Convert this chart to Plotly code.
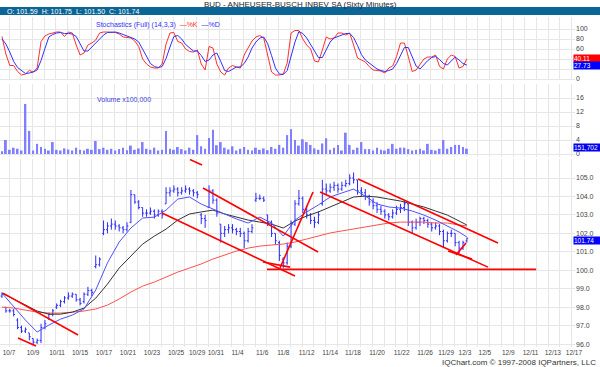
import plotly.graph_objects as go

# ---------------- data ----------------
TITLE = "BUD - ANHEUSER-BUSCH INBEV SA (Sixty Minutes)"
HEADER = "O: 101.59  H: 101.75  L: 101.50  C: 101.74"

tick_labels = ["10/7", "10/9", "10/11", "10/15", "10/17", "10/21", "10/23", "10/25", "10/29", "10/31",
               "11/4", "11/6", "11/8", "11/12", "11/14", "11/18", "11/20", "11/22", "11/26", "11/29",
               "12/3", "12/5", "12/9", "12/11", "12/13", "12/17"]
tick_pos = [0, 2.05, 4.1, 6.06, 8.1, 10.15, 12.2, 14.25, 16.05, 17.65,
            19.5, 21.6, 23.4, 25.4, 27.4, 29.35, 31.4, 33.5, 35.5, 37.3,
            38.9, 40.6, 42.6, 44.5, 46.4, 48.2]

open_ = [98.6, 98.0, 97.8, 97.8, 97.3, 96.9, 96.7, 96.6, 96.3, 96.1,
         96.2, 96.9, 97.4, 97.6, 98.0, 98.1, 98.3, 98.5, 98.6, 98.7,
         98.4, 98.3, 98.7, 98.9, 100.2, 100.3, 102.0, 102.2, 102.4, 102.5,
         102.4, 102.3, 102.2, 102.6, 104.1, 103.7, 103.4, 103.1, 103.1, 103.2,
         103.0, 103.2, 103.6, 104.2, 104.3, 104.4, 104.2, 104.3, 104.4, 104.3,
         104.2, 103.0, 102.8, 103.4, 104.3, 103.8, 102.5, 102.0, 102.2, 102.3,
         102.2, 102.1, 102.0, 101.6, 102.1, 103.8, 103.9, 103.9, 103.0, 102.6,
         102.0, 101.5, 100.6, 100.4, 101.3, 102.5, 103.6, 103.9, 103.3, 103.0,
         102.7, 102.6, 103.6, 104.4, 104.3, 104.5, 104.6, 104.4, 104.6, 104.7,
         105.0, 104.9, 104.3, 104.2, 104.0, 103.7, 103.5, 103.3, 103.2, 103.0,
         102.9, 103.1, 103.3, 103.4, 103.6, 102.6, 102.3, 102.6, 102.8, 102.7,
         102.5, 102.3, 102.4, 102.1, 101.6, 102.0, 102.0, 101.5, 101.2, 101.59]
high = [98.8, 98.0, 97.9, 97.9, 97.4, 97.0, 96.9, 96.6, 96.3, 96.3,
        97.1, 97.3, 97.7, 97.9, 98.2, 98.4, 98.6, 98.8, 98.8, 98.7,
        98.5, 98.8, 99.1, 99.0, 100.8, 100.7, 102.7, 102.6, 102.8, 102.7,
        102.5, 102.4, 102.6, 104.35, 104.1, 103.8, 103.4, 103.3, 103.4, 103.3,
        103.3, 103.3, 104.5, 104.5, 104.6, 104.5, 104.5, 104.6, 104.5, 104.4,
        104.3, 103.1, 103.0, 104.6, 104.4, 103.9, 102.5, 102.4, 102.5, 102.5,
        102.3, 102.3, 102.1, 102.3, 102.5, 104.2, 104.1, 104.0, 103.0, 102.7,
        102.0, 101.6, 100.7, 101.5, 102.7, 103.8, 104.35, 104.0, 103.5, 103.1,
        102.9, 103.2, 104.9, 104.7, 104.7, 104.8, 104.7, 104.8, 104.9, 105.2,
        105.3, 104.9, 104.5, 104.4, 104.1, 103.9, 103.7, 103.5, 103.3, 103.1,
        103.3, 103.5, 103.6, 103.8, 103.6, 102.7, 102.8, 102.9, 102.9, 102.8,
        102.6, 102.6, 102.5, 102.2, 102.1, 102.2, 102.0, 101.6, 101.6, 101.75]
low = [98.5, 97.7, 97.7, 97.5, 96.8, 96.6, 96.6, 96.2, 95.95, 96.0,
       96.05, 96.8, 97.3, 97.5, 97.9, 98.0, 98.2, 98.4, 98.5, 98.3,
       98.1, 98.2, 98.6, 98.6, 100.1, 100.2, 101.9, 102.0, 102.2, 102.2,
       102.1, 102.0, 102.1, 102.55, 103.6, 103.3, 102.9, 102.9, 103.0, 102.8,
       102.9, 102.8, 103.6, 104.0, 104.2, 104.0, 104.1, 104.2, 104.1, 104.0,
       103.9, 102.5, 102.3, 103.4, 103.6, 102.9, 101.5, 101.8, 102.0, 102.0,
       101.9, 101.8, 101.2, 101.5, 102.0, 103.7, 103.8, 103.7, 102.4, 101.8,
       101.4, 100.5, 100.1, 100.3, 101.2, 102.4, 103.5, 103.1, 102.8, 102.5,
       102.3, 102.5, 103.5, 104.1, 104.2, 104.3, 104.2, 104.3, 104.5, 104.6,
       104.7, 104.1, 104.0, 103.8, 103.5, 103.3, 103.1, 103.0, 102.8, 102.7,
       102.8, 103.0, 103.1, 103.2, 102.4, 102.0, 102.2, 102.4, 102.5, 102.3,
       102.1, 102.2, 101.9, 101.2, 101.5, 101.8, 101.3, 100.9, 101.1, 101.50]
close = [98.7, 97.8, 97.8, 97.6, 96.9, 96.7, 96.8, 96.4, 96.1, 96.2,
         96.9, 97.1, 97.6, 97.8, 98.1, 98.3, 98.5, 98.6, 98.7, 98.4,
         98.2, 98.7, 98.9, 98.8, 100.3, 100.6, 102.2, 102.4, 102.5, 102.4,
         102.3, 102.2, 102.4, 104.1, 103.7, 103.4, 103.1, 103.1, 103.2, 103.0,
         103.2, 103.0, 104.2, 104.3, 104.4, 104.2, 104.3, 104.4, 104.3, 104.2,
         104.1, 102.8, 102.7, 104.3, 103.8, 103.1, 102.0, 102.2, 102.3, 102.2,
         102.1, 102.0, 101.6, 102.1, 102.3, 103.9, 103.9, 103.8, 102.6, 102.0,
         101.6, 100.8, 100.4, 101.3, 102.5, 103.6, 103.9, 103.3, 103.0, 102.7,
         102.6, 103.0, 104.4, 104.3, 104.5, 104.6, 104.4, 104.6, 104.7, 105.0,
         104.9, 104.3, 104.2, 104.0, 103.7, 103.5, 103.3, 103.2, 103.0, 102.9,
         103.1, 103.3, 103.4, 103.6, 102.6, 102.3, 102.6, 102.8, 102.7, 102.5,
         102.3, 102.4, 102.1, 101.6, 102.0, 102.0, 101.5, 101.2, 101.5, 101.74]

# moving averages, sampled every third bar (plus the last bar)
ma_bars = list(range(0, 120, 3)) + [119]
ma_fast = [98.76, 98.0, 97.3, 96.65, 97.03, 97.35, 97.57, 97.9, 98.93, 100.4,
           101.53, 102.29, 102.83, 102.88, 103.26, 103.86, 103.97, 103.59, 103.32, 103.05,
           102.78, 102.56, 102.88, 102.56, 101.85, 102.72, 103.16, 103.54, 103.97, 104.19,
           104.40, 104.02, 103.59, 103.43, 103.37, 103.21, 102.99, 102.72, 102.40, 102.07, 101.80]
ma_mid = [98.76, 98.44, 98.11, 97.79, 97.62, 97.62, 97.73, 97.95, 98.49, 99.25,
          100.12, 100.77, 101.42, 101.85, 102.23, 102.72, 103.05, 103.16, 103.26, 103.05,
          102.88, 102.72, 102.61, 102.5, 102.29, 102.67, 102.94, 103.16, 103.43, 103.70,
          103.97, 104.02, 103.97, 103.86, 103.75, 103.59, 103.43, 103.21, 102.99, 102.67, 102.45]
ma_slow = [98.0, 97.95, 97.84, 97.73, 97.68, 97.68, 97.73, 97.79, 97.9, 98.11,
           98.44, 98.82, 99.14, 99.36, 99.63, 99.9, 100.12, 100.34, 100.61, 100.82,
           101.04, 101.2, 101.31, 101.37, 101.42, 101.53, 101.69, 101.85, 102.02, 102.13,
           102.23, 102.34, 102.45, 102.56, 102.61, 102.61, 102.61, 102.56, 102.56, 102.45, 102.40]

volume = [0.8, 4.0, 1.2, 1.8, 1.5, 1.0, 14.3, 6.6, 1.0, 2.9,
          2.0, 1.5, 1.0, 3.4, 1.2, 1.0, 1.6, 1.3, 1.0, 1.8,
          1.2, 1.0, 1.5, 1.2, 3.7, 1.4, 1.8, 1.2, 1.5, 1.0,
          1.4, 1.8, 1.1, 2.4, 1.2, 1.6, 3.4, 1.5, 1.2, 1.8,
          1.0, 1.2, 6.6, 1.5, 1.2, 2.0, 1.4, 1.0, 1.8, 1.2,
          5.4, 2.2, 1.5, 4.6, 6.9, 2.5, 3.4, 1.8, 1.3, 2.2,
          1.0, 1.5, 2.0, 1.2, 1.0, 1.8, 1.2, 1.6, 1.1, 2.0,
          1.5, 2.6, 1.8, 5.4, 7.1, 4.0, 2.4, 4.2, 3.4, 2.6,
          1.6, 1.2, 3.0, 4.5, 1.2, 1.8, 2.6, 1.0, 6.1, 2.6,
          1.2, 1.8, 3.4, 1.4, 1.4, 1.0, 1.8, 1.2, 1.0, 1.5,
          2.9, 1.5, 1.8, 1.8, 1.4, 1.0, 1.2, 1.5, 1.0, 2.9,
          1.2, 1.0, 1.5, 4.0, 1.5, 2.0, 2.6, 2.6, 2.0, 1.52]

stoch_k = [85, 50, 27, 27, 15, 8, 10, 17, 14, 22,
           75, 86, 90, 92, 94, 94, 85, 94, 92, 68,
           48, 52, 68, 72, 78, 92, 94, 94, 94, 93,
           90, 84, 83, 82, 76, 65, 40, 30, 24, 22,
           22, 30, 70, 92, 93, 75, 72, 60, 55, 54,
           58, 30, 18, 65, 62, 30, 14, 8, 22, 27,
           24, 22, 48, 62, 76, 84, 87, 82, 45, 14,
           8, 8, 10, 32, 92, 97, 97, 80, 68, 60,
           36, 34, 58, 84, 80, 82, 92, 92, 88, 92,
           68, 42, 38, 34, 25, 18, 17, 16, 12, 22,
           26, 45, 72, 72, 45, 15, 18, 28, 40, 44,
           44, 48, 25, 20, 40, 48, 45, 22, 25, 40.11]
stoch_d = [80, 70, 54, 35, 23, 17, 11, 12, 14, 18,
           37, 61, 84, 89, 92, 93, 91, 91, 90, 85,
           69, 56, 56, 64, 73, 81, 88, 93, 94, 94,
           92, 89, 86, 83, 80, 74, 60, 45, 31, 25,
           23, 25, 41, 64, 85, 87, 80, 69, 62, 56,
           56, 47, 35, 38, 48, 52, 35, 17, 15, 19,
           24, 24, 31, 44, 62, 74, 82, 84, 71, 47,
           22, 10, 9, 17, 45, 74, 95, 91, 82, 69,
           55, 43, 43, 59, 74, 82, 85, 89, 91, 91,
           83, 67, 49, 38, 32, 26, 20, 17, 15, 17,
           20, 31, 48, 63, 63, 44, 26, 20, 29, 37,
           43, 45, 39, 31, 28, 36, 44, 38, 31, 27.73]

# drawn trend lines (day units, price)
trendlines = [(-0.51, 98.76, 5.89, 96.49), (0.77, 96.33, 2.30, 95.89),
              (13.05, 103.10, 24.40, 99.69), (16.55, 104.46, 26.37, 100.99),
              (23.12, 100.12, 25.94, 104.24), (22.01, 100.05, 44.97, 100.05),
              (21.67, 100.45, 23.98, 100.17), (29.78, 104.95, 41.72, 101.48),
              (26.54, 104.24, 40.87, 100.17), (37.46, 101.04, 39.51, 100.61),
              (38.14, 100.83, 38.99, 101.48), (15.44, 106.0, 16.47, 105.70)]

# ---------------- layout helpers ----------------
W, H = 600, 367
ML, MR, MT, MB = 0, 25, 0, 20
PW, PH = W - ML - MR, H - MT - MB


def px_x(p):
    return (p - ML) / PW


def px_y(p):
    return (PH + MT - p) / PH


bar_x = [-0.6 + i / 3 for i in range(len(close))]
ma_x = [bar_x[k] for k in ma_bars]

GRID = "#e6e6e6"
BLUE = "#2b2bff"
FONT = "Arial"

fig = go.Figure()

fig.add_trace(go.Ohlc(x=bar_x, open=open_, high=high, low=low, close=close,
                      xaxis="x", yaxis="y", tickwidth=0.35,
                      increasing=dict(line=dict(color=BLUE, width=1)),
                      decreasing=dict(line=dict(color=BLUE, width=1)),
                      showlegend=False, hoverinfo="skip"))
fig.add_trace(go.Scatter(x=ma_x, y=ma_slow, mode="lines", line=dict(color="#ff5050", width=1),
                         xaxis="x", yaxis="y", showlegend=False, hoverinfo="skip"))
fig.add_trace(go.Scatter(x=ma_x, y=ma_mid, mode="lines", line=dict(color="#333333", width=1),
                         xaxis="x", yaxis="y", showlegend=False, hoverinfo="skip"))
fig.add_trace(go.Scatter(x=ma_x, y=ma_fast, mode="lines", line=dict(color="#5050ff", width=1),
                         xaxis="x", yaxis="y", showlegend=False, hoverinfo="skip"))

fig.add_trace(go.Bar(x=bar_x, y=volume, width=0.16, marker=dict(color="#7f7fff", line=dict(width=0)),
                     xaxis="x", yaxis="y2", showlegend=False, hoverinfo="skip"))

fig.add_trace(go.Scatter(x=bar_x, y=stoch_k, mode="lines", line=dict(color="#ff3030", width=1),
                         xaxis="x", yaxis="y3", showlegend=False, hoverinfo="skip"))
fig.add_trace(go.Scatter(x=bar_x, y=stoch_d, mode="lines", line=dict(color="#3030ff", width=1),
                         xaxis="x", yaxis="y3", showlegend=False, hoverinfo="skip"))

shapes = [dict(type="rect", xref="paper", yref="paper", x0=px_x(0), x1=px_x(600),
               y0=px_y(15), y1=px_y(7), fillcolor="#0b6596", line=dict(width=0))]
for (x0, y0, x1, y1) in trendlines:
    shapes.append(dict(type="line", xref="x", yref="y", x0=x0, y0=y0, x1=x1, y1=y1,
                       line=dict(color="#ff0000", width=1.6)))

annotations = [
    dict(text=TITLE, x=px_x(300), y=px_y(4.5), xref="paper", yref="paper", showarrow=False,
         xanchor="center", yanchor="middle", font=dict(family=FONT, size=8, color="#222222")),
    dict(text=HEADER, x=px_x(5), y=px_y(11), xref="paper", yref="paper", showarrow=False,
         xanchor="left", yanchor="middle", font=dict(family=FONT, size=7, color="white")),
    dict(text="Stochastics (Full) (14,3,3)  <span style='color:#ff3030'>\u2014%K</span>  \u2014%D",
         x=px_x(94), y=px_y(25), xref="paper", yref="paper", showarrow=False,
         xanchor="left", yanchor="middle", font=dict(family=FONT, size=7, color="#3030ff")),
    dict(text="Volume x100,000", x=px_x(95), y=px_y(100), xref="paper", yref="paper", showarrow=False,
         xanchor="left", yanchor="middle", font=dict(family=FONT, size=7, color="#4040e0")),
    dict(text="IQChart.com \u00a9 1997-2008 IQPartners, LLC", x=px_x(598), y=px_y(362),
         xref="paper", yref="paper", showarrow=False, xanchor="right", yanchor="middle",
         font=dict(family=FONT, size=8, color="#333333")),
]
for txt, yy, col in [("40.11", 58.5, "#ff0000"), ("27.73", 65.5, "#0000ff"),
                     ("151,702", 147, "#0000ee"), ("101.74", 240.5, "#0000ff")]:
    annotations.append(dict(text=txt, x=px_x(573), y=px_y(yy), xref="paper", yref="paper",
                            showarrow=False, xanchor="left", yanchor="middle", width=26, height=7,
                            align="left", bgcolor=col, borderpad=0,
                            font=dict(family=FONT, size=6.5, color="white")))

axis_font = dict(family=FONT, size=7, color="#444444")
xfont = dict(family=FONT, size=6.5, color="#444444")

fig.update_layout(
    width=W, height=H, margin=dict(l=ML, r=MR, t=MT, b=MB),
    paper_bgcolor="white", plot_bgcolor="white", hovermode=False,
    shapes=shapes, annotations=annotations,
    xaxis=dict(domain=[0, 1], range=[-0.768, 48.29], anchor="y",
               tickmode="array", tickvals=tick_pos, ticktext=tick_labels, tickangle=0,
               showgrid=False, zeroline=False, showline=False, ticks="", ticklen=0,
               tickfont=xfont, rangeslider=dict(visible=False),
               minor=dict(tickmode="linear", tick0=0, dtick=1, showgrid=True,
                          gridcolor=GRID, gridwidth=1, ticks="")),
    yaxis=dict(domain=[0, px_y(159)], range=[95.84, 106.03], anchor="x", side="right",
               tickmode="array", tickvals=[96, 97, 98, 99, 100, 101, 102, 103, 104, 105],
               tickformat=".1f", gridcolor=GRID, zeroline=False, ticks="", ticklen=0,
               tickfont=axis_font),
    yaxis2=dict(domain=[px_y(157), px_y(84)], range=[-0.857, 20], anchor="x", side="right",
                tickmode="array", tickvals=[0, 4, 8, 12, 16], gridcolor=GRID,
                zeroline=False, ticks="", ticklen=0, tickfont=axis_font),
    yaxis3=dict(domain=[px_y(80), px_y(17)], range=[-2, 124], anchor="x", side="right",
                tickmode="array", tickvals=[0, 20, 40, 60, 80, 100],
                ticktext=["0", "", "", "60", "80", "100"], gridcolor=GRID,
                zeroline=False, ticks="", ticklen=0, tickfont=axis_font),
)

fig.write_html("out.html", config={"displayModeBar": False},
               post_script="document.body.style.margin='0';")
